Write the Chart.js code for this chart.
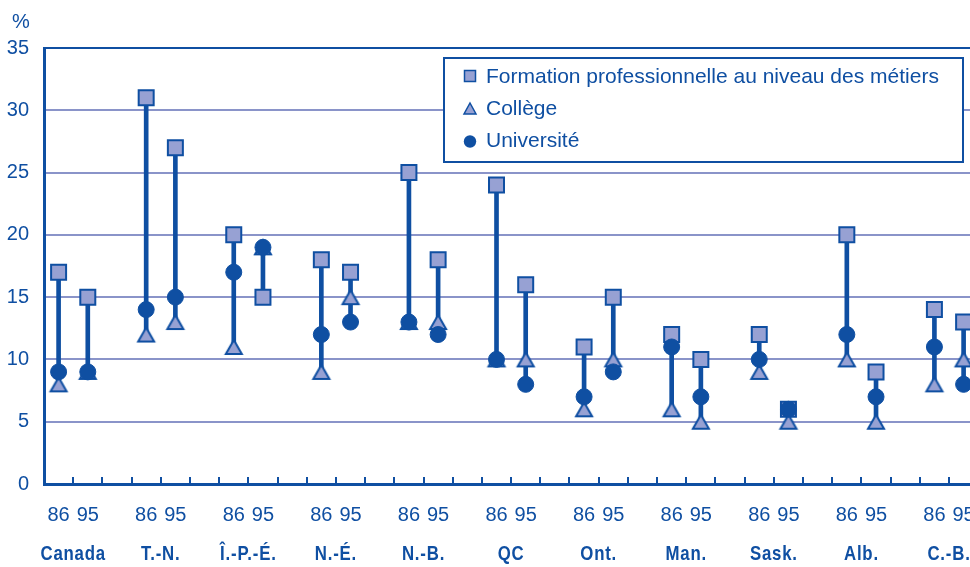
<!DOCTYPE html>
<html lang="fr">
<head>
<meta charset="utf-8">
<title>Taux de chômage selon le niveau de scolarité, 1986 et 1995</title>
<script src="https://cdn.jsdelivr.net/npm/chart.js@4.4.1/dist/chart.umd.min.js"></script>
<style>
  html, body { margin: 0; padding: 0; background: #fff; overflow: hidden; width: 970px; height: 567px; }
  canvas { display: block; }
</style>
</head>
<body>
<canvas id="chart" width="1020" height="567"></canvas>
<script>
// Unemployment rate (%) by level of education, 1986 and 1995
const provinces = ['Canada', 'T.-N.', 'Î.-P.-É.', 'N.-É.', 'N.-B.', 'QC', 'Ont.', 'Man.', 'Sask.', 'Alb.', 'C.-B.'];
const years = ['86', '95'];
const trades86  = [17, 31, 20, 18, 25, 24, 11, 12, 12, 20, 14];
const trades95  = [15, 27, 15, 17, 18, 16, 15, 10,  6,  9, 13];
const college86 = [ 8, 12, 11,  9, 13, 10,  6,  6,  9, 10,  8];
const college95 = [ 9, 13, 19, 15, 13, 10, 10,  5,  5,  5, 10];
const univ86    = [ 9, 14, 17, 12, 13, 10,  7, 11, 10, 12, 11];
const univ95    = [ 9, 15, 19, 13, 12,  8,  9,  7,  6,  7,  8];
const yTicks = [0, 5, 10, 15, 20, 25, 30, 35];
const seriesNames = ['Formation professionnelle au niveau des métiers', 'Collège', 'Université'];

const INK = '#0f4fa2';
const FILL = '#97a1d3';
const GRID = '#8a94c9';
const SANS = "'Liberation Sans', Arial, sans-serif";

// one slot per year plus an empty spacer slot after each province
const slotLabels = [];
provinces.forEach(() => slotLabels.push(years[0], years[1], ''));

function toSlots(a86, a95) {
  const out = [];
  a86.forEach((v, i) => out.push(v, a95[i], null));
  return out;
}
const trades = toSlots(trades86, trades95);
const college = toSlots(college86, college95);
const univ = toSlots(univ86, univ95);
// vertical connector spans from the lowest to the highest rate in each slot
const spans = trades.map((v, i) => v === null ? null :
  [Math.min(v, college[i], univ[i]), Math.max(v, college[i], univ[i])]);

function triangleMarker(w, h, lw) {
  const m = 2;
  const c = document.createElement('canvas');
  c.width = Math.round(w + lw + 2 * m);
  c.height = Math.round(h + lw + 2 * m);
  const g = c.getContext('2d');
  const o = m + lw / 2;
  g.beginPath();
  g.moveTo(c.width / 2, o);
  g.lineTo(c.width - o, c.height - o);
  g.lineTo(o, c.height - o);
  g.closePath();
  g.fillStyle = FILL;
  g.fill();
  g.lineWidth = lw;
  g.lineJoin = 'miter';
  g.strokeStyle = INK;
  g.stroke();
  return c;
}
const triangleBig = triangleMarker(16, 14, 2);

function markerSet(label, data, style, radius, order, bg, bw) {
  return {
    type: 'line', label, data, order,
    showLine: false,
    pointStyle: style,
    pointRadius: radius,
    pointHoverRadius: radius,
    pointBackgroundColor: bg,
    pointBorderColor: INK,
    pointBorderWidth: bw,
    clip: false
  };
}

// condensed bold province names, centred under each pair of years
const provinceLabels = {
  id: 'provinceLabels',
  afterDraw(chart) {
    const x = chart.scales.x;
    const ctx = chart.ctx;
    const squeeze = 0.8;
    ctx.save();
    ctx.fillStyle = INK;
    ctx.font = "bold 21px " + SANS;
    ctx.textAlign = 'center';
    ctx.textBaseline = 'alphabetic';
    if ('letterSpacing' in ctx) ctx.letterSpacing = '1px';
    ctx.scale(squeeze, 1);
    provinces.forEach((p, k) => {
      const cx = (x.getPixelForValue(3 * k) + x.getPixelForValue(3 * k + 1)) / 2;
      ctx.fillText(p, cx / squeeze, 560);
    });
    ctx.restore();
  }
};

const innerTicks = {
  id: 'innerTicks',
  afterDraw(chart) {
    const x = chart.scales.x;
    const ctx = chart.ctx;
    const bottom = chart.chartArea.bottom;
    ctx.save();
    ctx.strokeStyle = INK;
    ctx.lineWidth = 2;
    ctx.beginPath();
    for (let i = 1; i < slotLabels.length; i++) {
      const px = Math.round((x.getPixelForValue(i - 1) + x.getPixelForValue(i)) / 2);
      ctx.moveTo(px, bottom - 7);
      ctx.lineTo(px, bottom);
    }
    ctx.stroke();
    // unit above the value axis
    ctx.fillStyle = INK;
    ctx.font = "20px " + SANS;
    ctx.textAlign = 'center';
    ctx.textBaseline = 'alphabetic';
    ctx.fillText('%', 21, 28);
    ctx.restore();
  }
};

const boxedLegend = {
  id: 'boxedLegend',
  afterDatasetsDraw(chart) {
    const ctx = chart.ctx;
    ctx.save();
    ctx.fillStyle = '#fff';
    ctx.fillRect(444, 58, 519, 104);
    ctx.lineWidth = 2;
    ctx.strokeStyle = INK;
    ctx.strokeRect(444, 58, 519, 104);

    const mx = 470;
    // square
    ctx.fillStyle = FILL;
    ctx.lineWidth = 1.5;
    ctx.fillRect(mx - 5.5, 70.5, 11, 11);
    ctx.strokeRect(mx - 5.5, 70.5, 11, 11);
    // triangle
    ctx.beginPath();
    ctx.moveTo(mx, 103);
    ctx.lineTo(mx + 6, 114);
    ctx.lineTo(mx - 6, 114);
    ctx.closePath();
    ctx.fill();
    ctx.stroke();
    // circle
    ctx.beginPath();
    ctx.arc(mx, 141.5, 6.2, 0, Math.PI * 2);
    ctx.fillStyle = INK;
    ctx.fill();

    ctx.fillStyle = INK;
    ctx.font = "21px " + SANS;
    ctx.textAlign = 'left';
    ctx.textBaseline = 'alphabetic';
    const baselines = [83, 115, 147];
    seriesNames.forEach((t, i) => ctx.fillText(t, 486, baselines[i]));
    ctx.restore();
  }
};

new Chart(document.getElementById('chart'), {
  type: 'bar',
  data: {
    labels: slotLabels,
    datasets: [
      {
        type: 'bar', label: 'écart', data: spans, order: 4,
        backgroundColor: INK, borderWidth: 0,
        barThickness: 4, grouped: false
      },
      markerSet(seriesNames[0], trades, 'rect', 10.6, 3, FILL, 2),
      markerSet(seriesNames[1], college, triangleBig, 9, 2, FILL, 2),
      markerSet(seriesNames[2], univ, 'circle', 8, 1, INK, 1)
    ]
  },
  options: {
    responsive: false,
    animation: false,
    devicePixelRatio: 1,
    layout: { padding: { top: 48, right: 5, left: 0, bottom: 0 } },
    plugins: { legend: { display: false }, tooltip: { enabled: false } },
    scales: {
      x: {
        type: 'category',
        offset: true,
        afterFit: s => { s.height = 83; },
        grid: { display: false, drawTicks: false },
        border: { display: true, color: INK, width: 3 },
        ticks: {
          autoSkip: false, maxRotation: 0, minRotation: 0,
          padding: 19, color: INK,
          font: { family: SANS, size: 20 }
        }
      },
      y: {
        min: 0, max: 35,
        afterFit: s => { s.width = 44; },
        afterBuildTicks: s => { s.ticks = yTicks.map(v => ({ value: v })); },
        grid: {
          drawTicks: false,
          lineWidth: 2,
          color: c => (c.tick && c.tick.value === 35) ? INK : GRID
        },
        border: { display: true, color: INK, width: 3 },
        ticks: {
          padding: 15, color: INK,
          font: { family: SANS, size: 20 }
        }
      }
    }
  },
  plugins: [boxedLegend, innerTicks, provinceLabels]
});
</script>
</body>
</html>
